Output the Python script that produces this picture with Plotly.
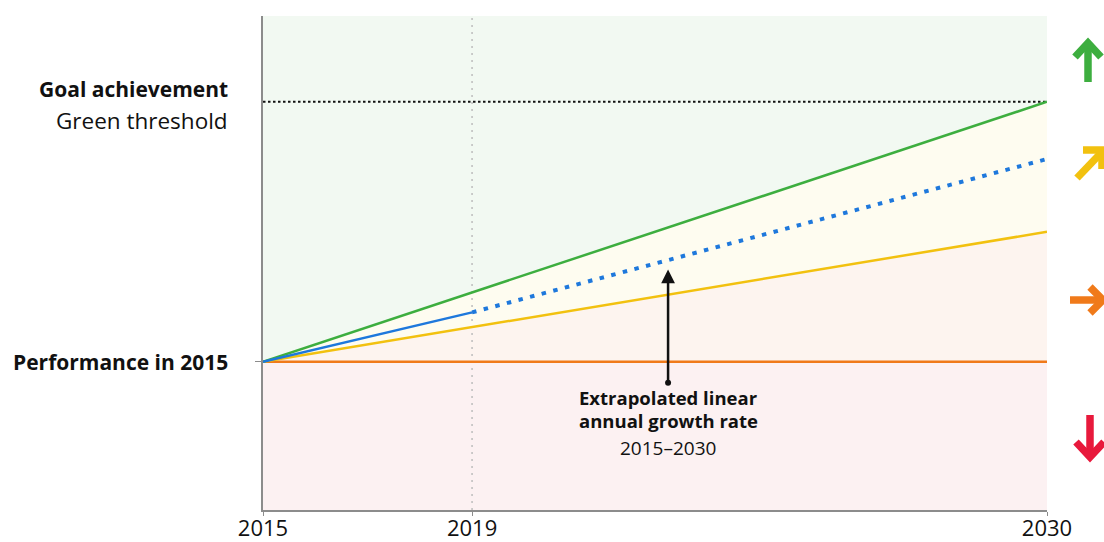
import plotly.graph_objects as go

# ---- data ----
start_year = 2015
obs_year = 2019
end_year = 2030
tick_years = [2015, 2019, 2030]
tick_labels = ["2015", "2019", "2030"]

baseline = 0.0          # performance in 2015
goal = 1.0              # green threshold (goal achievement)
green_path = [0.0, 1.0]       # 2015 -> 2030
yellow_path = [0.0, 0.5]      # 2015 -> 2030
orange_path = [0.0, 0.0]      # 2015 -> 2030
blue_obs_years = [2015, 2019]
blue_obs_vals = [0.0, 0.19]
blue_proj_years = [2019, 2030]
blue_proj_vals = [0.19, 0.78]
annot_year = 2022.75
annot_tip = 0.355
annot_tail = -0.081

y_min, y_max = -0.57, 1.33

W, H = 1104, 542
ML, MR, MT, MB = 263, 57, 16, 32

FONT = "Open Sans"
GREEN = "#3DAE3F"
YELLOW = "#F2C10F"
ORANGE = "#F07A1A"
RED = "#E8193C"
BLUE = "#1E78DC"
INK = "#111111"

fig = go.Figure()

# background bands
ends = [start_year, end_year]
fig.add_trace(go.Scatter(x=[start_year, end_year, end_year, start_year],
                         y=[green_path[0], green_path[1], y_max, y_max],
                         fill="toself", fillcolor="#F2F9F2", line=dict(width=0),
                         mode="lines", hoverinfo="skip", showlegend=False))
fig.add_trace(go.Scatter(x=[start_year, end_year, end_year],
                         y=[green_path[0], green_path[1], yellow_path[1]],
                         fill="toself", fillcolor="#FEFCF0", line=dict(width=0),
                         mode="lines", hoverinfo="skip", showlegend=False))
fig.add_trace(go.Scatter(x=[start_year, end_year, end_year],
                         y=[yellow_path[0], yellow_path[1], orange_path[1]],
                         fill="toself", fillcolor="#FDF4EF", line=dict(width=0),
                         mode="lines", hoverinfo="skip", showlegend=False))
fig.add_trace(go.Scatter(x=[start_year, end_year, end_year, start_year],
                         y=[orange_path[0], orange_path[1], y_min, y_min],
                         fill="toself", fillcolor="#FCF1F2", line=dict(width=0),
                         mode="lines", hoverinfo="skip", showlegend=False))

# 2019 vertical dotted line
fig.add_trace(go.Scatter(x=[obs_year, obs_year], y=[y_min, y_max], mode="lines",
                         line=dict(color="#BDBDBD", width=1.5, dash="2px,5px"),
                         hoverinfo="skip", showlegend=False))
# goal dotted line
fig.add_trace(go.Scatter(x=ends, y=[goal, goal], mode="lines",
                         line=dict(color=INK, width=2, dash="2.5px,2.5px"),
                         hoverinfo="skip", showlegend=False))

# pathways
fig.add_trace(go.Scatter(x=ends, y=orange_path, mode="lines",
                         line=dict(color=ORANGE, width=2.5), showlegend=False))
fig.add_trace(go.Scatter(x=ends, y=yellow_path, mode="lines",
                         line=dict(color=YELLOW, width=2.5), showlegend=False))
fig.add_trace(go.Scatter(x=ends, y=green_path, mode="lines",
                         line=dict(color=GREEN, width=2.5), showlegend=False))
fig.add_trace(go.Scatter(x=blue_proj_years, y=blue_proj_vals, mode="lines",
                         line=dict(color=BLUE, width=4, dash="4.5px,7.5px"),
                         showlegend=False))
fig.add_trace(go.Scatter(x=blue_obs_years, y=blue_obs_vals, mode="lines",
                         line=dict(color=BLUE, width=2.5), showlegend=False))

# annotation arrow tail dot
fig.add_trace(go.Scatter(x=[annot_year], y=[annot_tail], mode="markers",
                         marker=dict(color=INK, size=6), showlegend=False,
                         hoverinfo="skip"))

annotations = [
    dict(x=annot_year, y=annot_tip, ax=annot_year, ay=annot_tail,
         xref="x", yref="y", axref="x", ayref="y", text="", showarrow=True,
         arrowhead=2, arrowsize=1.1, arrowwidth=2.5, arrowcolor=INK),
    dict(x=annot_year, y=-0.138, xref="x", yref="y", yanchor="middle",
         text="<b>Extrapolated linear</b>", showarrow=False,
         font=dict(family=FONT, size=18.5, color=INK)),
    dict(x=annot_year, y=-0.227, xref="x", yref="y", yanchor="middle",
         text="<b>annual growth rate</b>", showarrow=False,
         font=dict(family=FONT, size=18.5, color=INK)),
    dict(x=annot_year, y=-0.331, xref="x", yref="y", yanchor="middle",
         text="2015–2030", showarrow=False,
         font=dict(family=FONT, size=19, color=INK)),
    dict(x=-0.042, y=1.05, xref="paper", yref="y", xanchor="right",
         yanchor="middle", text="<b>Goal achievement</b>", showarrow=False,
         font=dict(family=FONT, size=21, color=INK)),
    dict(x=-0.042, y=0.927, xref="paper", yref="y", xanchor="right",
         yanchor="middle", text="Green threshold", showarrow=False,
         font=dict(family=FONT, size=22.5, color=INK)),
    dict(x=-0.042, y=baseline, xref="paper", yref="y", xanchor="right",
         yanchor="middle", text="<b>Performance in 2015</b>", showarrow=False,
         font=dict(family=FONT, size=21, color=INK)),
]

# right-side status arrows (decorative icons), page pixel -> paper coordinates
PW, PH = W - ML - MR, H - MT - MB


def px(xp, yp):
    return (xp - ML) / PW, (H - MB - yp) / PH


def poly(points):
    parts = []
    for i, (a, b) in enumerate(points):
        x, y = px(a, b)
        parts.append(("M" if i == 0 else "L") + f"{x:.5f},{y:.5f}")
    return " ".join(parts)


shapes = []
icons = [
    (GREEN, [[(1088, 82), (1088, 44)], [(1075, 57), (1088, 43), (1101, 57)]]),
    (YELLOW, [[(1077, 178), (1100, 154)], [(1083, 150), (1102, 150), (1102, 169)]]),
    (ORANGE, [[(1070, 300), (1101, 300)], [(1090, 287), (1103, 300), (1090, 313)]]),
    (RED, [[(1090, 415), (1090, 455)], [(1076, 442), (1090, 457), (1104, 442)]]),
]
for color, strokes in icons:
    for s in strokes:
        shapes.append(dict(type="path", path=poly(s), xref="paper", yref="paper",
                           line=dict(color=color, width=7.5), layer="above"))

fig.update_layout(
    width=W, height=H,
    margin=dict(l=ML, r=MR, t=MT, b=MB, pad=0, autoexpand=False),
    paper_bgcolor="white", plot_bgcolor="white",
    showlegend=False,
    annotations=annotations,
    shapes=shapes,
    xaxis=dict(range=[start_year, end_year], tickvals=tick_years, ticktext=tick_labels,
               showgrid=False, zeroline=False, showline=True, linecolor="#8C8C8C",
               linewidth=2, ticks="outside", ticklen=4, tickcolor="#8C8C8C",
               automargin=False,
               tickfont=dict(family=FONT, size=22, color=INK)),
    yaxis=dict(range=[y_min, y_max], tickvals=[baseline], showticklabels=False,
               showgrid=False, zeroline=False, showline=True, linecolor="#8C8C8C",
               linewidth=2, ticks="outside", ticklen=6, tickcolor="#8C8C8C",
               automargin=False),
)
try:
    fig.update_xaxes(ticklabelstandoff=-6)
except Exception:
    pass

fig.write_html(
    "out.html",
    config={"displayModeBar": False},
    post_script="document.body.style.margin='0';document.body.style.overflow='hidden';",
)
